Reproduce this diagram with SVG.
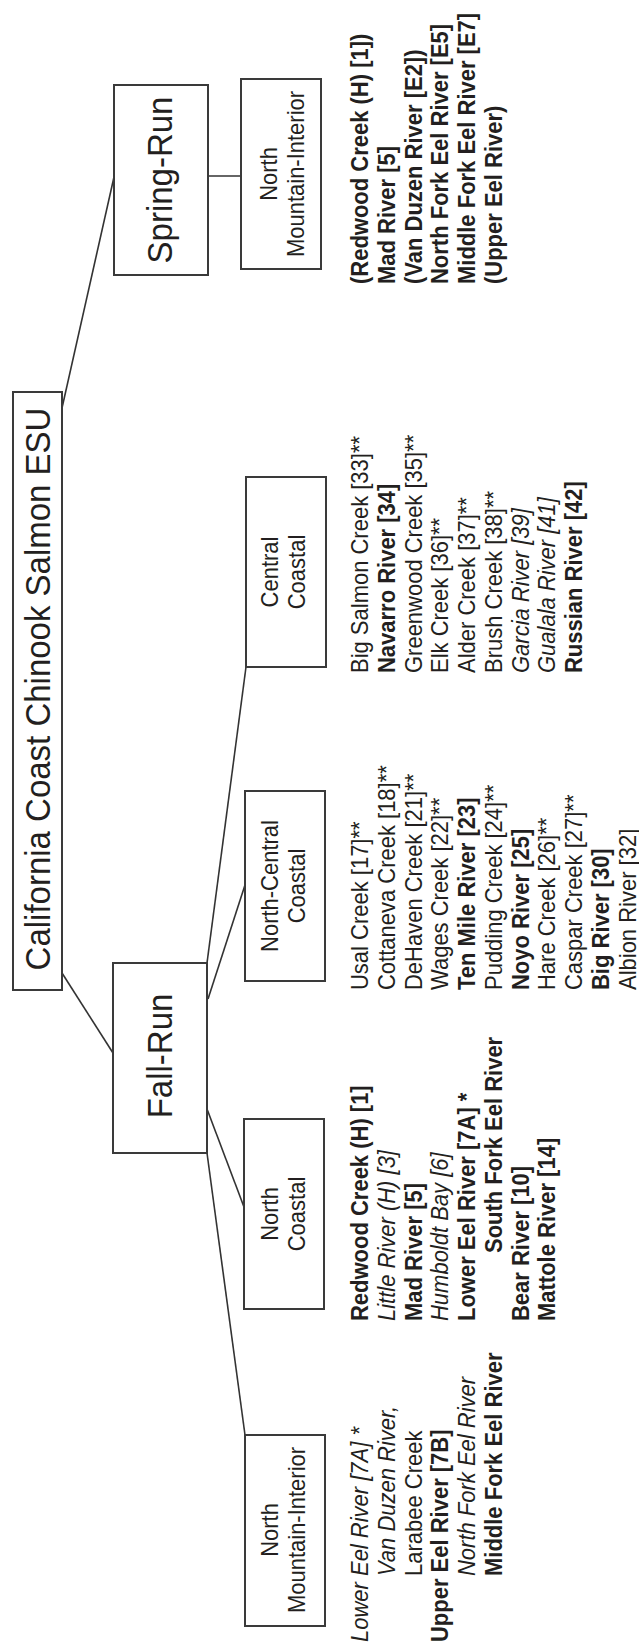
<svg xmlns="http://www.w3.org/2000/svg" width="639" height="1644" viewBox="0 0 639 1644">
<style>
.box{fill:#fff;stroke:#3a3a3a;stroke-width:2}
.edge{stroke:#333;stroke-width:1.6;fill:none}
text{font-family:"Liberation Sans",Arial,Helvetica,sans-serif;fill:#231f20}
.big{font-size:33px;text-anchor:middle}
.lbl{font-size:22px;text-anchor:middle}
.li{font-size:22px}
.b{font-weight:bold}
.i{font-style:italic}
</style>
<rect width="639" height="1644" fill="#fff"/>
<g id="connectors">
<line class="edge" x1="62" y1="973" x2="113" y2="1053"/>
<line class="edge" x1="62" y1="408" x2="114" y2="177"/>
<line class="edge" x1="208" y1="176" x2="241" y2="176"/>
<line class="edge" x1="207" y1="963" x2="246" y2="667"/>
<line class="edge" x1="208" y1="999" x2="245" y2="885"/>
<line class="edge" x1="207" y1="1109" x2="244" y2="1207"/>
<line class="edge" x1="207" y1="1153" x2="245" y2="1435"/>
</g>
<g id="root">
<rect class="box" x="13" y="392" width="49" height="598"/>
<text class="big" transform="translate(50,689) rotate(-90) scale(1,1.08)">California Coast Chinook Salmon ESU</text>
</g>
<g id="fall-run">
<rect class="box" x="113" y="963" width="94" height="190"/>
<text class="big" transform="translate(172,1056) rotate(-90) scale(1,1.08)">Fall-Run</text>
</g>
<g id="spring-run">
<rect class="box" x="114" y="85" width="94" height="190"/>
<text class="big" transform="translate(172,180) rotate(-90) scale(1,1.08)">Spring-Run</text>
</g>
<g id="spring-nmi">
<rect class="box" x="241" y="79" width="80" height="190"/>
<g transform="translate(277,174) rotate(-90) scale(1,1.08)">
<text class="lbl" y="0">North</text>
<text class="lbl" y="25">Mountain-Interior</text>
</g>
<g transform="translate(368,284) rotate(-90) scale(1,1.08)">
<text class="li b" y="0">(Redwood Creek (H) [1])</text>
<text class="li b" y="24.8">Mad River [5]</text>
<text class="li b" y="49.6">(Van Duzen River [E2])</text>
<text class="li b" y="74.4">North Fork Eel River [E5]</text>
<text class="li b" y="99.2">Middle Fork Eel River [E7]</text>
<text class="li b" y="124">(Upper Eel River)</text>
</g>
</g>
<g id="central-coastal">
<rect class="box" x="246" y="477" width="80" height="190"/>
<g transform="translate(278,572) rotate(-90) scale(1,1.08)">
<text class="lbl" y="0">Central</text>
<text class="lbl" y="25">Coastal</text>
</g>
<g transform="translate(368,673) rotate(-90) scale(1,1.08)">
<text class="li" y="0">Big Salmon Creek [33]**</text>
<text class="li b" y="24.8">Navarro River [34]</text>
<text class="li" y="49.6">Greenwood Creek [35]**</text>
<text class="li" y="74.4">Elk Creek [36]**</text>
<text class="li" y="99.2">Alder Creek [37]**</text>
<text class="li" y="124">Brush Creek [38]**</text>
<text class="li i" y="148.8">Garcia River [39]</text>
<text class="li i" y="173.6">Gualala River [41]</text>
<text class="li b" y="198.4">Russian River [42]</text>
</g>
</g>
<g id="north-central-coastal">
<rect class="box" x="245" y="791" width="80" height="190"/>
<g transform="translate(278,886) rotate(-90) scale(1,1.08)">
<text class="lbl" y="0">North-Central</text>
<text class="lbl" y="25">Coastal</text>
</g>
<g transform="translate(368,990) rotate(-90) scale(1,1.08)">
<text class="li" y="0">Usal Creek [17]**</text>
<text class="li" y="24.8">Cottaneva Creek [18]**</text>
<text class="li" y="49.6">DeHaven Creek [21]**</text>
<text class="li" y="74.4">Wages Creek [22]**</text>
<text class="li b" y="99.2">Ten Mile River [23]</text>
<text class="li" y="124">Pudding Creek [24]**</text>
<text class="li b" y="148.8">Noyo River [25]</text>
<text class="li" y="173.6">Hare Creek [26]**</text>
<text class="li" y="198.4">Caspar Creek [27]**</text>
<text class="li b" y="223.2">Big River [30]</text>
<text class="li" y="248">Albion River [32]</text>
</g>
</g>
<g id="north-coastal">
<rect class="box" x="244" y="1119" width="80" height="190"/>
<g transform="translate(278,1214) rotate(-90) scale(1,1.08)">
<text class="lbl" y="0">North</text>
<text class="lbl" y="25">Coastal</text>
</g>
<g transform="translate(368,1321) rotate(-90) scale(1,1.08)">
<text class="li b" y="0">Redwood Creek (H) [1]</text>
<text class="li i" y="24.8">Little River (H) [3]</text>
<text class="li b" y="49.6">Mad River [5]</text>
<text class="li i" y="74.4">Humboldt Bay [6]</text>
<text class="li b" y="99.2">Lower Eel River [7A] *</text>
<text class="li b" x="68" y="124">South Fork Eel River</text>
<text class="li b" y="148.8">Bear River [10]</text>
<text class="li b" y="173.6">Mattole River [14]</text>
</g>
</g>
<g id="fall-nmi">
<rect class="box" x="245" y="1435" width="80" height="191"/>
<g transform="translate(278,1530) rotate(-90) scale(1,1.08)">
<text class="lbl" y="0">North</text>
<text class="lbl" y="25">Mountain-Interior</text>
</g>
<g transform="translate(368,1642) rotate(-90) scale(1,1.08)">
<text class="li i" y="0">Lower Eel River [7A] *</text>
<text class="li i" x="66" y="24.8">Van Duzen River,</text>
<text class="li" x="66" y="49.6">Larabee Creek</text>
<text class="li b" y="74.4">Upper Eel River [7B]</text>
<text class="li i" x="66" y="99.2">North Fork Eel River</text>
<text class="li b" x="66" y="124">Middle Fork Eel River</text>
</g>
</g>
</svg>
